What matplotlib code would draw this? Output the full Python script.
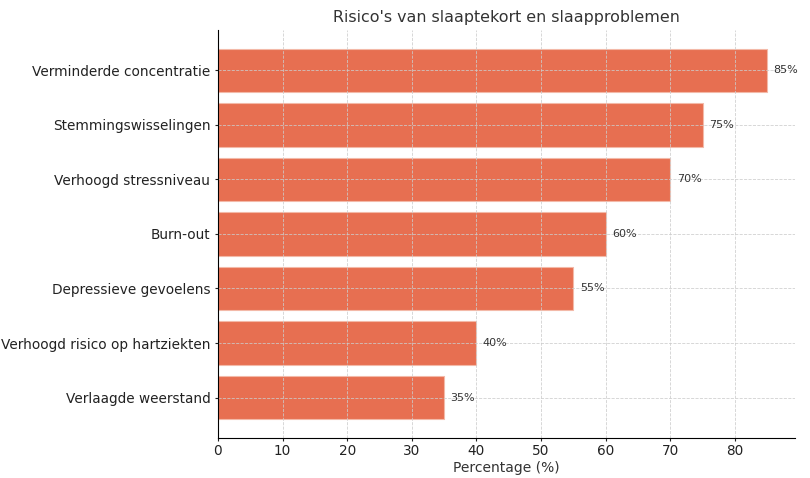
import matplotlib
matplotlib.use("Agg")
import matplotlib.pyplot as plt

categories = [
    "Verminderde concentratie",
    "Stemmingswisselingen",
    "Verhoogd stressniveau",
    "Burn-out",
    "Depressieve gevoelens",
    "Verhoogd risico op hartziekten",
    "Verlaagde weerstand",
]
values = [85, 75, 70, 60, 55, 40, 35]

fig = plt.figure(figsize=(8.1, 4.78), dpi=100)
ax = fig.add_axes([0.269, 0.084, 0.712, 0.853])

bars = ax.barh(categories[::-1], values[::-1], height=0.8, color="#E76F51",
               edgecolor="#f3b9a8", linewidth=0.8)
ax.set_axisbelow(False)
ax.grid(True, linestyle="--", color="#cccccc", linewidth=0.6, alpha=0.9)

for b, v in zip(bars, values[::-1]):
    ax.text(b.get_width() + 1, b.get_y() + b.get_height() / 2, f"{v}%",
            va="center", ha="left", fontsize=8, color="#333333")

ax.set_xlim(0, 89.25)
ax.set_title("Risico's van slaaptekort en slaapproblemen", fontsize=11.4, color="#333333")
ax.set_xlabel("Percentage (%)", fontsize=10, color="#333333", labelpad=2)
ax.tick_params(axis="both", labelsize=9.8, colors="#222222", length=2.5, pad=2)
ax.tick_params(axis="y", pad=3)
ax.spines["top"].set_visible(False)
ax.spines["right"].set_visible(False)
for s in ("left", "bottom"):
    ax.spines[s].set_zorder(5)

fig.savefig("out.png", dpi=100)
